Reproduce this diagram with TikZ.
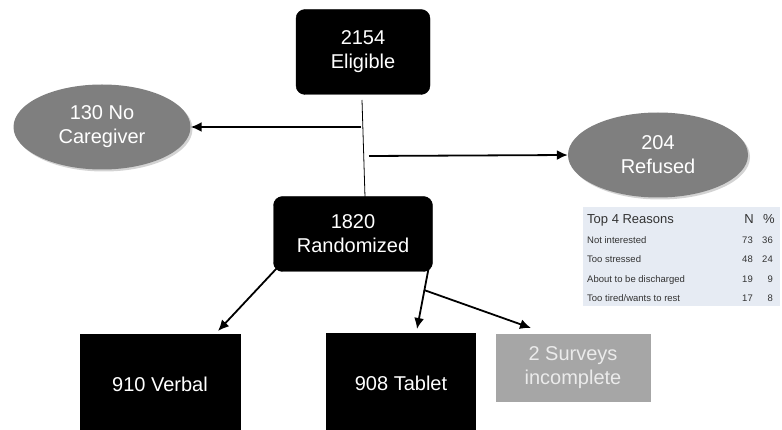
\documentclass[tikz,border=0pt]{standalone}
\usepackage{fontspec}
\setmainfont{Liberation Sans}
\usetikzlibrary{arrows,arrows.meta,shapes,shadows}

\definecolor{ovalgray}{HTML}{7F7F7F}
\definecolor{boxgray}{HTML}{A6A6A6}
\definecolor{tablebg}{HTML}{E6EBF3}

\tikzset{
  blackbox/.style={draw=black, fill=black, text=white, align=center, font=\fontsize{20}{24}\selectfont},
  grayoval/.style={ellipse, fill=ovalgray, text=white, align=center, inner sep=0pt, font=\fontsize{20}{24}\selectfont, drop shadow={opacity=0.35, shadow xshift=2pt, shadow yshift=-2pt}},
  flow/.style={-{Latex[length=11pt,width=10pt]}, line width=1.8pt},
  reason/.style={anchor=base west, inner sep=0pt, text=black!80, font=\fontsize{9.5}{11}\selectfont},
  count/.style={anchor=base east, inner sep=0pt, text=black!80, font=\fontsize{9.5}{11}\selectfont}
}

\begin{document}
\begin{tikzpicture}[x=1pt, y=-1pt]
        \useasboundingbox (0,0) rectangle (782,430);

        \node[blackbox, rounded corners=9pt, minimum width=134pt, minimum height=85pt] (elig) at (363,52) {2154\\Eligible} ;
        \node[blackbox, rounded corners=9pt, minimum width=159pt, minimum height=75pt] (rand) at (353,234) {1820\\Randomized} ;

        \node[grayoval, minimum width=177pt, minimum height=85pt] (nocare) at (102,127) {130 No\\Caregiver} ;
        \node[grayoval, minimum width=180pt, minimum height=85pt] (refused) at (658,155) {204\\Refused} ;

        \node[blackbox, minimum width=160pt, minimum height=100pt] (verbal) at (160,384) {910 Verbal} ;
        \node[blackbox, minimum width=149pt, minimum height=100pt] (tablet) at (401,383) {908 Tablet} ;
        \node[fill=boxgray, text=white!92!black, align=center, minimum width=155pt, minimum height=67pt, font=\fontsize{20}{24}\selectfont] (incomp) at (573,368) {2 Surveys\\incomplete} ;

        % line from eligible down to randomized
        \coordinate (stemtop) at (362,100);
        \coordinate (stembot) at (365,197);
        \draw[line width=0.8pt] (stemtop) -- (stembot);

        \coordinate (outleft) at (361,127);
        \coordinate (outright) at (369,156);
        \draw[flow] (outleft) -- (nocare.east);
        \draw[flow] (outright) -- (refused.west);

        \coordinate (split) at (424,290);
        \draw[flow] (rand.south west) ++(4,-4) -- (218,331);
        \draw[flow] (rand.south east) ++(-4,-4) -- (417,329);
        \draw[flow] (split) -- (531,328);

        % reasons table
        \node[fill=tablebg, minimum width=197pt, minimum height=99pt, inner sep=0pt] (reasons) at (681.5,256.5) {};
        \node[reason, font=\fontsize{13}{15}\selectfont] (head) at (587,224) {Top 4 Reasons};
        \node[count, font=\fontsize{13}{15}\selectfont] (headn) at (754,224) {N};
        \node[count, font=\fontsize{13}{15}\selectfont] (headp) at (775,224) {\%};
        \foreach \txt/\n/\p [count=\i] in {Not interested/73/36, Too stressed/48/24, About to be discharged/19/9, Too tired\slash wants to rest/17/8} {
          \node[reason] (r\i) at (587,224+19.5*\i) {\txt};
          \node[count] (n\i) at (753,224+19.5*\i) {\n};
          \node[count] (p\i) at (773,224+19.5*\i) {\p};
        }
    \end{tikzpicture}
\end{document}
